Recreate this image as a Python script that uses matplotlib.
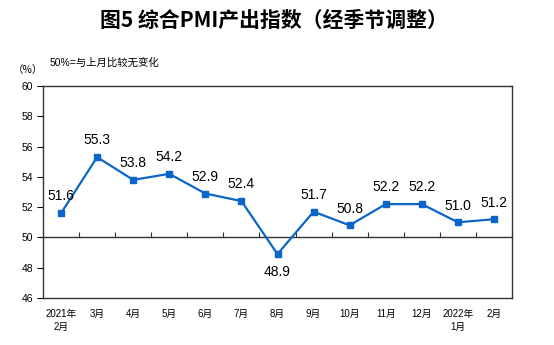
import matplotlib
matplotlib.use("Agg")
import matplotlib.pyplot as plt
import numpy as np

months = ["2021年\n2月", "3月", "4月", "5月", "6月", "7月", "8月",
          "9月", "10月", "11月", "12月", "2022年\n1月", "2月"]
pmi = [51.6, 55.3, 53.8, 54.2, 52.9, 52.4, 48.9, 51.7, 50.8, 52.2, 52.2, 51.0, 51.2]
yticks = [46, 48, 50, 52, 54, 56, 58, 60]

plt.rcParams['font.family'] = ['Liberation Sans', 'Noto Sans CJK SC', 'DejaVu Sans']

blue = '#0a66c8'
fig = plt.figure(figsize=(5.54, 3.45), dpi=100)
ax = fig.add_axes([43/554, 47/345, 469/554, 212/345])

x = np.arange(len(pmi))
ax.plot(x, pmi, color=blue, lw=1.6, marker='s', ms=4.5, mec=blue, mfc=blue, zorder=3)

for xi, v in zip(x, pmi):
    if v < 50:
        ax.annotate(f"{v:.1f}", (xi, v), xytext=(0, -8), textcoords='offset points',
                    ha='center', va='top', fontsize=10)
    else:
        ax.annotate(f"{v:.1f}", (xi, v), xytext=(0, 7), textcoords='offset points',
                    ha='center', va='bottom', fontsize=10)

ax.set_xlim(-0.5, len(pmi) - 0.5)
ax.set_ylim(46, 60)
ax.set_yticks(yticks)
ax.tick_params(axis='y', direction='out', length=4, labelsize=7.5, width=0.8, pad=3)
ax.set_xticks(x)
ax.set_xticklabels(months, fontsize=7, linespacing=1.3)
ax.tick_params(axis='x', length=0, pad=8)
for s in ax.spines.values():
    s.set_linewidth(1.0)
    s.set_color('#333333')

# category axis crossing at 50
sec = ax.secondary_xaxis((50 - 46) / (60 - 46))
sec.set_xticks(np.arange(len(pmi) - 1) + 0.5)
sec.set_xticklabels([])
sec.tick_params(direction='in', length=3.5, width=0.8, colors='#333333')
sec.spines['bottom'].set_linewidth(1.0)
sec.spines['bottom'].set_color('#333333')

fig.text(0.495, 1 - 20/345, "图5 综合PMI产出指数（经季节调整）", ha='center', va='center',
         fontsize=15, fontweight='bold', family=['Noto Sans CJK SC', 'DejaVu Sans'])
fig.text(50/554, 1 - 63/345, "50%=与上月比较无变化", ha='left', va='center', fontsize=7.5)
fig.text(28/554, 1 - 70/345, "（%）", ha='center', va='center', fontsize=7.5,
         family=['Noto Sans CJK SC', 'DejaVu Sans'])

fig.savefig("out.png", dpi=100)
